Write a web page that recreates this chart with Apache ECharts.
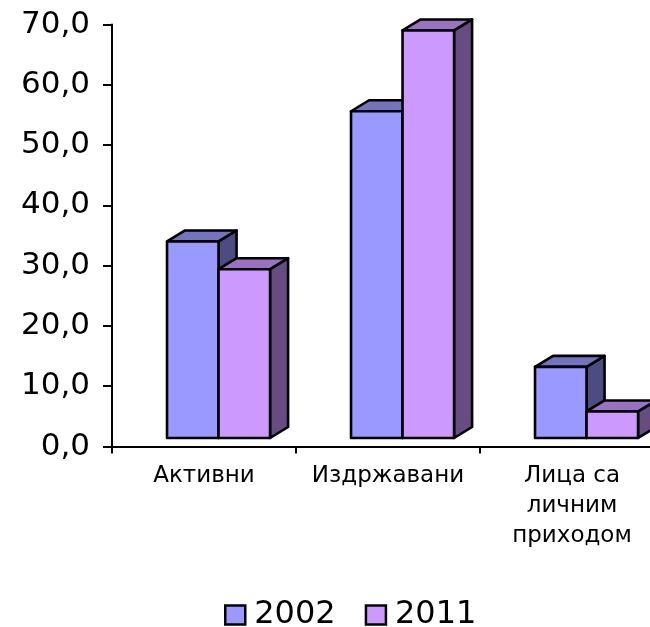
<!DOCTYPE html>
<html>
<head>
<meta charset="utf-8">
<script src="https://cdn.jsdelivr.net/npm/echarts@6/dist/echarts.min.js"></script>
<style>html,body{margin:0;padding:0;background:#fff}#c{width:650px;height:627px}</style>
</head>
<body>
<div id="c"></div>
<script>
var categories = ['Активни', 'Издржавани', 'Лица са\nличним\nприходом'];
var seriesNames = ['2002', '2011'];
var values2002 = [32.6, 54.2, 11.8];
var values2011 = [28.0, 67.6, 4.4];
var yTicks = { min: 0, max: 70, interval: 10 };

var FONT = 'DejaVu Sans';
var faces = [
  { front: '#9999FF', top: '#7373BF', side: '#4C4C80' },
  { front: '#CC99FF', top: '#9973BF', side: '#664C80' }
];

function makeRender(sIdx) {
  return function (params, api) {
    var i = api.value(0), v = api.value(1);
    var base = api.coord([i, 0]);
    var topPt = api.coord([i, v]);
    var catW = api.size([1, 0])[0];
    var w = catW * 0.28;
    var ox = catW * 0.079, oy = -8.5;
    var dx = catW * 0.098, dy = -11;
    var L = base[0] + ox - w + sIdx * w;
    var R = L + w;
    var T = topPt[1] + oy;
    var B = base[1] + oy;
    var f = faces[sIdx];
    var st = { stroke: '#000', lineWidth: 2.6, lineJoin: 'round' };
    return {
      type: 'group',
      children: [
        { type: 'polygon', shape: { points: [[R, T], [R + dx, T + dy], [R + dx, B + dy], [R, B]] },
          style: Object.assign({ fill: f.side }, st) },
        { type: 'polygon', shape: { points: [[L, T], [R, T], [R + dx, T + dy], [L + dx, T + dy]] },
          style: Object.assign({ fill: f.top }, st) },
        { type: 'rect', shape: { x: L, y: T, width: w, height: B - T },
          style: Object.assign({ fill: f.front }, st) }
      ]
    };
  };
}

function toData(arr) { return arr.map(function (v, i) { return [i, v]; }); }

var chart = echarts.init(document.getElementById('c'), null, { renderer: 'canvas' });
chart.setOption({
  animation: false,
  backgroundColor: '#fff',
  grid: { left: 112, width: 552, top: 24.5, height: 422, containLabel: false, outerBoundsMode: 'none' },
  legend: {
    data: seriesNames,
    left: 224, top: 599, padding: 0,
    icon: 'rect', itemWidth: 20, itemHeight: 19, itemGap: 29,
    itemStyle: { borderColor: '#000', borderWidth: 2.5 },
    textStyle: { fontFamily: FONT, fontSize: 32, color: '#000', lineHeight: 26, padding: [0, 0, 0, 4] }
  },
  xAxis: {
    type: 'category', data: categories, boundaryGap: true,
    axisLine: { show: true, lineStyle: { color: '#000', width: 2 } },
    axisTick: { show: true, length: 7, lineStyle: { color: '#000', width: 2 } },
    axisLabel: { interval: 0, fontFamily: FONT, fontSize: 23, color: '#000', lineHeight: 30, margin: 15, align: 'center' },
    splitLine: { show: false }
  },
  yAxis: {
    type: 'value', min: yTicks.min, max: yTicks.max, interval: yTicks.interval,
    axisLine: { show: true, lineStyle: { color: '#000', width: 2 } },
    axisTick: { show: true, length: 9, lineStyle: { color: '#000', width: 2 } },
    axisLabel: { fontFamily: FONT, fontSize: 31, color: '#000', margin: 22,
      formatter: function (v) { return v.toFixed(1).replace('.', ','); } },
    splitLine: { show: false }
  },
  series: [
    { name: seriesNames[0], type: 'custom', renderItem: makeRender(0), data: toData(values2002),
      encode: { x: 0, y: 1 }, itemStyle: { color: faces[0].front }, clip: false },
    { name: seriesNames[1], type: 'custom', renderItem: makeRender(1), data: toData(values2011),
      encode: { x: 0, y: 1 }, itemStyle: { color: faces[1].front }, clip: false }
  ]
});
</script>
</body>
</html>
